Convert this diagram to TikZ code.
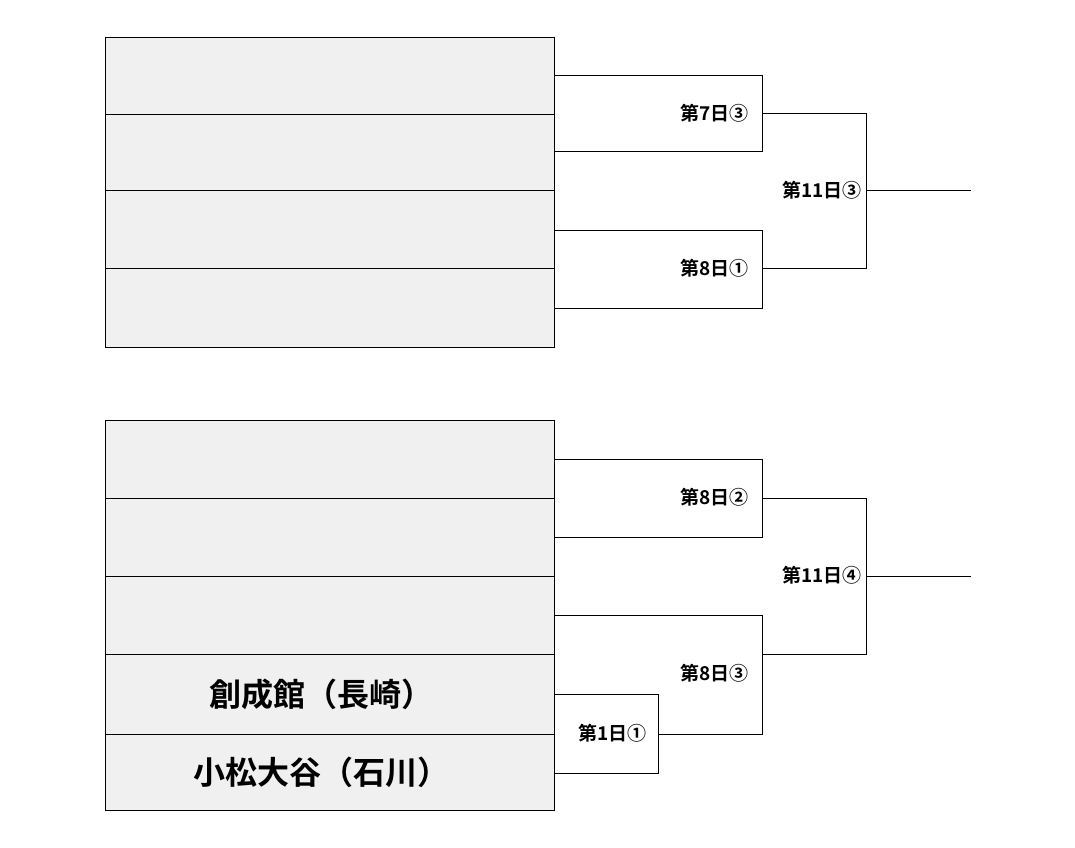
\documentclass[tikz,border=0pt]{standalone}
\usepackage{fontspec}
\newfontfamily\cjk{Noto Sans CJK JP Bold}
\begin{document}
\begin{tikzpicture}[x=1pt,y=-1pt,line width=0.8pt,
 row/.style={draw,fill=gray!12},
 lbl/.style={font=\cjk\fontsize{19}{22}\selectfont,anchor=east,inner sep=0pt},
 team/.style={font=\cjk\fontsize{32}{36}\selectfont,inner sep=0pt}]
\useasboundingbox (0,0) rectangle (1075,847);
% top table
\foreach \a/\b in {37/114,114/190,190/268,268/347}{\draw[row] (105,\a) rectangle (554,\b);}
\draw (554,75) -- (762,75) -- (762,151) -- (554,151);
\draw (554,230) -- (762,230) -- (762,308) -- (554,308);
\draw (762,113) -- (866,113) -- (866,268) -- (762,268);
\draw (866,190) -- (971,190);
\node[lbl] (a) at (749,113) {第7日③};
\node[lbl] (b) at (749,268) {第8日①};
\node[lbl] (c) at (862,190) {第11日③};
% bottom table
\foreach \a/\b in {420/498,498/576,576/654,654/734,734/810}{\draw[row] (105,\a) rectangle (554,\b);}
\node[team] (t1) at (321,694) {創成館（長崎）};
\node[team] (t2) at (321,772) {小松大谷（石川）};
\draw (554,459) -- (762,459) -- (762,537) -- (554,537);
\draw (554,615) -- (762,615) -- (762,734) -- (658,734);
\draw (554,694) -- (658,694) -- (658,773) -- (554,773);
\draw (762,498) -- (866,498) -- (866,654) -- (762,654);
\draw (866,576) -- (971,576);
\node[lbl] (d) at (749,497) {第8日②};
\node[lbl] (e) at (749,673) {第8日③};
\node[lbl] (f) at (647,733) {第1日①};
\node[lbl] (g) at (862,575) {第11日④};
\end{tikzpicture}
\end{document}
